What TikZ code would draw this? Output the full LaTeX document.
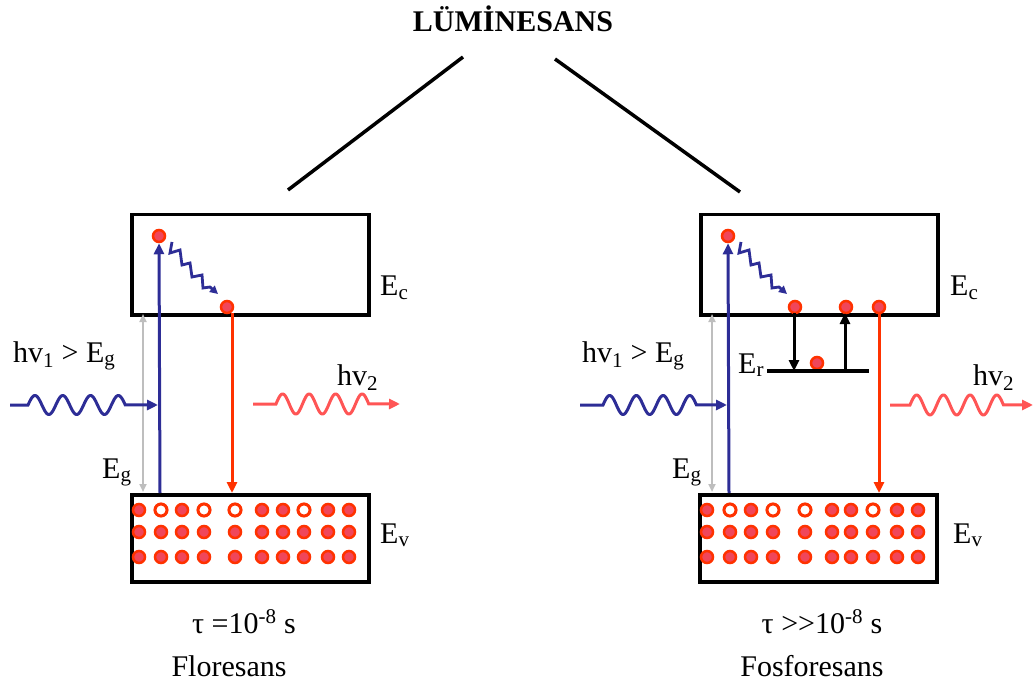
\documentclass[tikz,border=0pt]{standalone}
\usepackage{fontspec}
\setmainfont{Liberation Serif}
\usetikzlibrary{arrows.meta}
\definecolor{navy}{RGB}{45,45,150}
\definecolor{ered}{RGB}{255,50,0}
\definecolor{ein}{RGB}{240,70,90}
\definecolor{wred}{RGB}{255,85,85}
\definecolor{lgray}{RGB}{190,190,190}
\begin{document}
\begin{tikzpicture}[x=1pt,y=-1pt,
  lbl/.style={inner sep=0pt, anchor=base west, font=\fontsize{30}{36}\selectfont},
  captext/.style={inner sep=0pt, anchor=base, font=\fontsize{30}{36}\selectfont},
  band/.style={draw=black, line width=3.5pt, minimum width=237pt, minimum height=100pt, anchor=north west, inner sep=0pt},
  vband/.style={draw=black, line width=3.5pt, minimum width=237pt, minimum height=87pt, anchor=north west, inner sep=0pt},
  el/.style={circle, fill=ein, draw=ered, line width=2.5pt, minimum size=12pt, inner sep=0pt},
  hole/.style={circle, fill=white, draw=ered, line width=3pt, minimum size=12pt, inner sep=0pt},
  arrtip/.style={-{Triangle[length=11pt,width=10pt]}},
  uparr/.style={navy, line width=3pt, arrtip},
  redarr/.style={ered, line width=3pt, arrtip},
  blkarr/.style={black, line width=3pt, arrtip},
  gaparr/.style={lgray, line width=2.5pt, {Triangle[length=8pt,width=7pt]}-{Triangle[length=8pt,width=7pt]}},
  zigarr/.style={navy, line width=2.8pt, -{Triangle[length=8pt,width=8pt]}},
  inwave/.style={navy, line width=3pt, arrtip},
  outwave/.style={wred, line width=3pt, arrtip}]
\useasboundingbox (0,0) rectangle (1034,687);

% title and branches
\node[inner sep=0pt, anchor=base, font=\bfseries\fontsize{30}{36}\selectfont] (title) at (513,32) {LÜMİNESANS};
\coordinate (tl) at (463,57);
\coordinate (tr) at (555,59);
\coordinate (bl) at (288,190);
\coordinate (br) at (740,192);
\draw[line width=3.5pt] (tl) -- (bl);
\draw[line width=3.5pt] (tr) -- (br);

% ================= LEFT: Floresans =================
\node[band] (cL) at (130,213) {};
\node[vband] (vL) at (130,493) {};
\node[lbl] (EcL) at (380,296) {E\textsubscript{c}};
\node[lbl] (EvL) at (380,543) {E\textsubscript{v}};

\foreach \x [count=\i] in {139,161,182,204,235,262,283,304,328,349}{
  \foreach \y [count=\j] in {510,532,557}{
    \node[el] (dL-\i-\j) at (\x,\y) {};
  }
}
\foreach \i/\x in {2/161,4/204,5/235,8/304}{
  \node[hole] (hL-\i) at (\x,510) {};
}

\node[el] (eL1) at (159,236) {};
\node[el] (eL2) at (227,307) {};
\coordinate (aLb) at (160,493);
\draw[uparr] (aLb) -- (eL1.south);
\draw[zigarr] (172,242) -- (170,253) -- (180,250) -- (182,265) -- (190,263) -- (192,277) -- (202,275) -- (203,288) -- (210,287) -- (218,294);
\coordinate (rLt) at (232,313);
\coordinate (rLb) at (232,493);
\draw[redarr] (rLt) -- (rLb);
\coordinate (gLt) at (143,314);
\coordinate (gLb) at (143,492);
\draw[gaparr] (gLt) -- (gLb);

\node[lbl] (hv1L) at (13,362) {hv\textsubscript{1} > E\textsubscript{g}};
\node[lbl] (EgL) at (102,478) {E\textsubscript{g}};
\node[lbl] (hv2L) at (337,385) {hv\textsubscript{2}};

\coordinate (wLs) at (10,405);
\coordinate (wLe) at (158,405);
\draw[inwave] (wLs) -- (28,405) -- plot[domain=0:3.5, samples=120] ({28+27.8*\x},{405-9.5*sin(360*\x)}) -- (wLe);
\coordinate (oLs) at (253,404);
\coordinate (oLe) at (400,404);
\draw[outwave] (oLs) -- (276,404) -- plot[domain=0:3.5, samples=120] ({276+26.5*\x},{404-10*sin(360*\x)}) -- (oLe);

\node[captext] (tauL) at (244,633) {τ =10\textsuperscript{-8} s};
\node[captext] (nameL) at (229,676) {Floresans};

% ================= RIGHT: Fosforesans =================
\node[band] (cR) at (699,213) {};
\node[vband] (vR) at (698,493) {};
\node[lbl] (EcR) at (950,296) {E\textsubscript{c}};
\node[lbl] (EvR) at (953,543) {E\textsubscript{v}};

\foreach \x [count=\i] in {707,730,751,773,805,832,851,873,897,918}{
  \foreach \y [count=\j] in {510,532,557}{
    \node[el] (dR-\i-\j) at (\x,\y) {};
  }
}
\foreach \i/\x in {2/730,4/773,5/805,8/873}{
  \node[hole] (hR-\i) at (\x,510) {};
}

\node[el] (eR1) at (728,236) {};
\node[el] (eR2) at (795,307) {};
\node[el] (eR3) at (846,307) {};
\node[el] (eR4) at (879,307) {};
\node[el] (eR5) at (817,363) {};
\coordinate (aRb) at (729,493);
\draw[uparr] (aRb) -- (eR1.south);
\draw[zigarr] (741,242) -- (739,253) -- (749,250) -- (751,265) -- (759,263) -- (761,277) -- (771,275) -- (772,288) -- (779,287) -- (787,294);

\coordinate (ErA) at (767,371);
\coordinate (ErB) at (869,371);
\draw[line width=3.5pt] (ErA) -- (ErB);
\node[lbl] (ErL) at (738,373) {E\textsubscript{r}};
\coordinate (dnT) at (794,313);
\coordinate (dnB) at (794,371);
\draw[blkarr] (dnT) -- (dnB);
\coordinate (upB) at (845,371);
\coordinate (upT) at (845,313);
\draw[blkarr] (upB) -- (upT);

\coordinate (rRt) at (879,313);
\coordinate (rRb) at (879,493);
\draw[redarr] (rRt) -- (rRb);
\coordinate (gRt) at (712,314);
\coordinate (gRb) at (712,492);
\draw[gaparr] (gRt) -- (gRb);

\node[lbl] (hv1R) at (582,362) {hv\textsubscript{1} > E\textsubscript{g}};
\node[lbl] (EgR) at (672,478) {E\textsubscript{g}};
\node[lbl] (hv2R) at (973,385) {hv\textsubscript{2}};

\coordinate (wRs) at (580,405);
\coordinate (wRe) at (727,405);
\draw[inwave] (wRs) -- (603,405) -- plot[domain=0:3.5, samples=120] ({603+26.7*\x},{405-9.5*sin(360*\x)}) -- (wRe);
\coordinate (oRs) at (890,405);
\coordinate (oRe) at (1033,405);
\draw[outwave] (oRs) -- (910,405) -- plot[domain=0:3.5, samples=120] ({910+26.7*\x},{405-10*sin(360*\x)}) -- (oRe);

\node[captext] (tauR) at (822,633) {τ {>}{>}10\textsuperscript{-8} s};
\node[captext] (nameR) at (812,676) {Fosforesans};
\end{tikzpicture}
\end{document}
